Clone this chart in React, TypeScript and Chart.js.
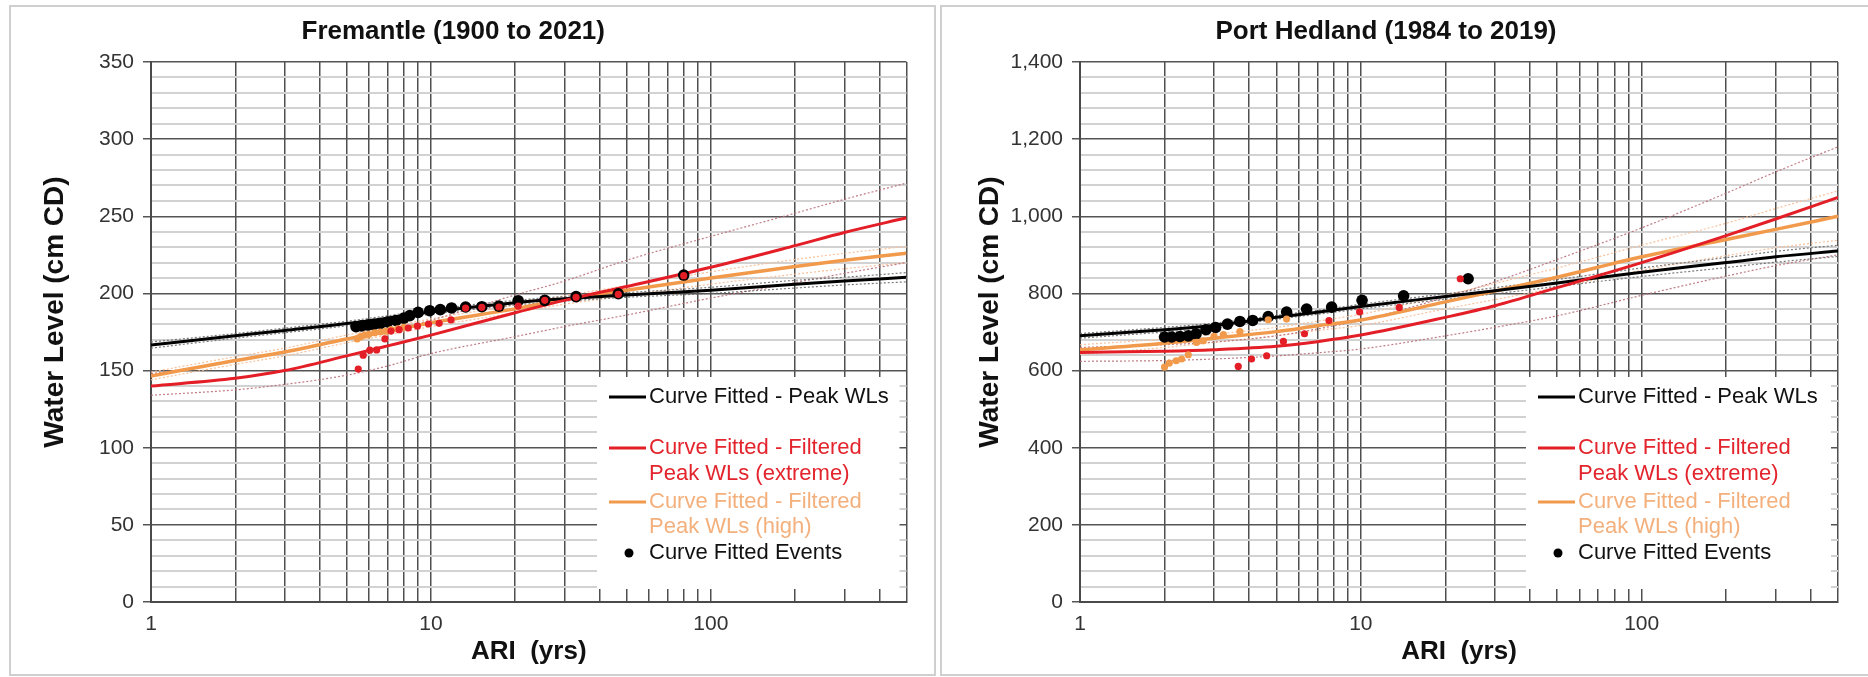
import React, { useEffect, useRef } from 'react';
import { Chart, registerables } from 'chart.js';

Chart.register(...registerables);

const FONT = '"Liberation Sans", Arial, Helvetica, sans-serif';

// ---------- shared axis data ----------
const X_TICKS = [1, 2, 3, 4, 5, 6, 7, 8, 9, 10, 20, 30, 40, 50, 60, 70, 80, 90, 100, 200, 300, 400, 500];
const X_LABELS = [1, 10, 100];
const CURVE_ARI = [1, 2, 3, 5, 7, 10, 20, 30, 50, 100, 200, 300, 500];
const X_TITLE = 'ARI  (yrs)';
const Y_TITLE = 'Water Level (cm CD)';

const LEGEND_LABELS = [
  ['Curve Fitted - Peak WLs'],
  ['Curve Fitted - Filtered', 'Peak WLs (extreme)'],
  ['Curve Fitted - Filtered', 'Peak WLs (high)'],
  ['Curve Fitted Events'],
];

// ---------- Fremantle ----------
const FRE_TITLE = 'Fremantle (1900 to 2021)';
const FRE_Y_MAJOR = [0, 50, 100, 150, 200, 250, 300, 350];
const FRE_PEAK = [166.5, 172.5, 176, 180.5, 184, 188, 194, 196.5, 199, 202, 206, 208, 210.5];
const FRE_PEAK_UP = [168.5, 174, 177.5, 182, 185.5, 189.5, 195.5, 198, 200.5, 204, 208.5, 210.5, 213.5];
const FRE_PEAK_LO = [164.5, 171, 174.5, 179, 182.5, 186.5, 192.5, 195, 197.5, 200, 203.5, 205.5, 207.5];
const FRE_EXT = [140, 145, 150, 159.5, 166, 173, 187.5, 195.5, 204.5, 217, 231, 239.5, 249];
const FRE_EXT_UP = [148, 156, 162, 170, 176, 182.6, 199, 208, 221.5, 237, 252, 261, 271.5];
const FRE_EXT_LO = [134, 137.5, 141, 147, 153, 161, 172, 178.5, 186, 197, 207, 213, 220];
const FRE_HIGH = [146.5, 156.5, 162, 170.5, 175.5, 181, 190, 196, 202, 210, 217.5, 221.5, 226];
const FRE_HIGH_UP = [149, 159, 164.5, 173, 178, 183.5, 192.5, 198.5, 205, 214, 222, 226, 230.5];
const FRE_HIGH_LO = [144, 154, 159.5, 168, 173, 178.5, 187.5, 193, 198.5, 206, 212.5, 216, 220];

const FRE_EVENT_ARI = [80, 46.7, 33, 25.5, 20.5, 17.5, 15.2, 13.3, 11.85, 10.8, 9.9, 9.0, 8.4, 8.0, 7.5, 7.0, 6.6, 6.25, 5.95, 5.65, 5.4];
const FRE_EVENT_WL = [211.9, 199.8, 197.9, 195.5, 195.3, 191.8, 191.4, 191.2, 190.6, 189.5, 188.8, 187.7, 185.6, 184, 182.5, 181.5, 180.5, 180, 179.5, 179, 178.5];
const FRE_EXT_PT_ARI = [80, 46.7, 33, 25.5, 20.5, 17.5, 15.2, 13.3, 11.8, 10.7, 9.8, 8.95, 8.3, 7.7, 7.2, 6.85, 6.4, 6.05, 5.73, 5.5];
const FRE_EXT_PT_WL = [211.5, 199.4, 197.5, 195.5, 191.8, 191.2, 191, 190.5, 182.8, 180.6, 180.2, 178.8, 177.6, 176.5, 175.6, 170.5, 163.4, 163.2, 160, 151];
const FRE_HIGH_PT_ARI = [8.0, 7.6, 7.2, 6.9, 6.6, 6.3, 6.0, 5.8, 5.6, 5.45];
const FRE_HIGH_PT_WL = [178, 177, 176.5, 175.5, 175, 174.5, 173.5, 173, 172, 170.5];

// ---------- Port Hedland ----------
const PH_TITLE = 'Port Hedland (1984 to 2019)';
const PH_Y_MAJOR = [0, 200, 400, 600, 800, 1000, 1200, 1400];
const PH_PEAK = [690, 706, 717, 738, 751, 766, 792, 807, 827, 855, 880, 895, 910];
const PH_PEAK_UP = [696, 712, 723, 743, 756, 772, 799, 815, 836, 866, 893, 909, 925];
const PH_PEAK_LO = [684, 700, 711, 733, 746, 760, 785, 799, 818, 844, 867, 881, 896];
const PH_EXT = [647, 650, 654, 663, 675, 692, 738, 768, 815, 880, 950, 993, 1049];
const PH_EXT_UP = [660, 667, 674, 690, 708, 730, 790, 830, 888, 970, 1060, 1115, 1180];
const PH_EXT_LO = [624, 626, 630, 638, 646, 656, 690, 712, 742, 795, 845, 872, 900];
const PH_HIGH = [654, 671, 684, 701, 716, 731, 778, 806, 842, 895, 940, 966, 1000];
const PH_HIGH_UP = [667, 682, 694, 712, 728, 746, 795, 826, 866, 925, 982, 1020, 1066];
const PH_HIGH_LO = [642, 660, 673, 690, 704, 717, 760, 784, 815, 860, 898, 918, 938];

const PH_EVENT_ARI = [24.1, 14.2, 10.1, 7.87, 6.41, 5.44, 4.68, 4.12, 3.71, 3.35, 3.04, 2.81, 2.59, 2.43, 2.27, 2.12, 2.0];
const PH_EVENT_WL = [838, 794, 782, 764.5, 759.4, 751.6, 740, 730, 727.3, 720.5, 711.8, 705.8, 695.4, 690, 688.5, 687, 687];
const PH_EXT_PT_ARI = [22.6, 13.7, 9.9, 7.7, 6.3, 5.3, 4.62, 4.08, 3.66];
const PH_EXT_PT_WL = [838, 763.6, 752, 729.5, 695.4, 675.5, 638.4, 630, 610.7];
const PH_HIGH_PT_ARI = [5.44, 4.68, 3.71, 3.24, 3.0, 2.75, 2.6, 2.43, 2.3, 2.2, 2.08, 2.0];
const PH_HIGH_PT_WL = [733.5, 731.7, 701, 693, 688.5, 677, 673, 641, 630, 625.5, 619.5, 609];

// ---------- styles ----------
const C = {
  black: '#000000',
  red: '#e41e26',
  orange: '#f29a4c',
  redText: '#e3242c',
  orangeText: '#f3b07c',
  blackBand: 'rgba(100,100,100,0.85)',
  redBand: 'rgba(185,110,120,0.9)',
  orangeBand: 'rgba(248,190,150,0.95)',
  gridMajor: '#555555',
  gridMinor: '#d2d2d2',
  gridV: '#4f4f4f',
  tick: '#333333',
};

const zip = (xs: number[], ys: number[]) => xs.map((x, i) => ({ x, y: ys[i] }));

function curve(data: number[], color: string, width: number, order: number) {
  return {
    data: zip(CURVE_ARI, data),
    showLine: true,
    borderColor: color,
    backgroundColor: color,
    borderWidth: width,
    pointRadius: 0,
    cubicInterpolationMode: 'monotone',
    order,
  };
}
function band(data: number[], color: string) {
  return {
    data: zip(CURVE_ARI, data),
    showLine: true,
    borderColor: color,
    borderWidth: 1.2,
    borderDash: [2, 2],
    pointRadius: 0,
    cubicInterpolationMode: 'monotone',
    order: 20,
  };
}
function pts(xs: number[], ys: number[], color: string, r: number, order: number) {
  return {
    data: zip(xs, ys),
    showLine: false,
    pointRadius: r,
    pointBackgroundColor: color,
    pointBorderColor: color,
    pointBorderWidth: 0,
    order,
  };
}

function legendPlugin() {
  return {
    id: 'boxLegend',
    afterDatasetsDraw(chart: any) {
      const { ctx, chartArea: a } = chart;
      const x0 = a.left + 446;
      const x1 = a.right - 7;
      const y0 = 377;
      const y1 = 589;
      ctx.save();
      ctx.fillStyle = '#ffffff';
      ctx.fillRect(x0, y0, x1 - x0, y1 - y0);
      ctx.font = `22px ${FONT}`;
      ctx.textBaseline = 'middle';
      ctx.textAlign = 'left';
      const rows = [[397], [448, 474], [502, 527], [553]];
      const colors = [C.black, C.red, C.orange, C.black];
      const textColors = ['#111111', C.redText, C.orangeText, '#111111'];
      LEGEND_LABELS.forEach((lines, i) => {
        const y = rows[i][0];
        if (i < 3) {
          ctx.strokeStyle = colors[i];
          ctx.lineWidth = 3;
          ctx.beginPath();
          ctx.moveTo(a.left + 458, y);
          ctx.lineTo(a.left + 495, y);
          ctx.stroke();
        } else {
          ctx.fillStyle = C.black;
          ctx.beginPath();
          ctx.arc(a.left + 478, y, 4.5, 0, Math.PI * 2);
          ctx.fill();
        }
        ctx.fillStyle = textColors[i];
        lines.forEach((t, j) => ctx.fillText(t, a.left + 498, rows[i][j]));
      });
      ctx.restore();
    },
  };
}

function yTitlePlugin(x: number, y: number) {
  return {
    id: 'yTitle',
    afterDraw(chart: any) {
      const { ctx } = chart;
      ctx.save();
      ctx.translate(x, y);
      ctx.rotate(-Math.PI / 2);
      ctx.font = `bold 28px ${FONT}`;
      ctx.fillStyle = '#111111';
      ctx.textAlign = 'center';
      ctx.textBaseline = 'middle';
      ctx.fillText(Y_TITLE, 0, 0);
      ctx.restore();
    },
  };
}

type Panel = {
  title: string;
  yMax: number;
  yStep: number;
  yMajor: number[];
  yWidth: number;
  padRight: number;
  yTitleX: number;
  peak: number[]; peakUp: number[]; peakLo: number[];
  ext: number[]; extUp: number[]; extLo: number[];
  high: number[]; highUp: number[]; highLo: number[];
  evX: number[]; evY: number[];
  exX: number[]; exY: number[];
  hiX: number[]; hiY: number[];
};

function makeConfig(p: Panel): any {
  const isMajor = (v: number) => p.yMajor.includes(v);
  return {
    type: 'scatter',
    data: {
      datasets: [
        pts(p.exX, p.exY, C.red, 3.6, 1),
        pts(p.hiX, p.hiY, C.orange, 3.6, 2),
        pts(p.evX, p.evY, C.black, 5.8, 3),
        curve(p.ext, C.red, 3, 5),
        curve(p.peak, C.black, 3, 6),
        curve(p.high, C.orange, 3.5, 7),
        band(p.peakUp, C.blackBand),
        band(p.peakLo, C.blackBand),
        band(p.extUp, C.redBand),
        band(p.extLo, C.redBand),
        band(p.highUp, C.orangeBand),
        band(p.highLo, C.orangeBand),
      ],
    },
    options: {
      responsive: false,
      animation: false,
      events: [],
      layout: { padding: { left: 0, right: p.padRight, top: 0, bottom: 0 } },
      plugins: {
        legend: { display: false },
        tooltip: { enabled: false },
        title: {
          display: true,
          text: p.title,
          color: '#111111',
          font: { family: FONT, size: 26, weight: 'bold', lineHeight: 1.2 },
          padding: { top: 16, bottom: 14.8 },
        },
      },
      scales: {
        x: {
          type: 'logarithmic',
          position: 'bottom',
          min: 1,
          max: 500,
          afterBuildTicks: (s: any) => {
            s.ticks = X_TICKS.map((value) => ({ value }));
          },
          afterFit: (s: any) => {
            s.height = 75;
          },
          ticks: {
            autoSkip: false,
            maxRotation: 0,
            padding: 10,
            color: C.tick,
            font: { family: FONT, size: 21 },
            callback: (v: any) => (X_LABELS.includes(Number(v)) ? String(v) : ''),
          },
          grid: { color: C.gridV, lineWidth: 1.5, drawTicks: false },
          border: { color: '#4a4a4a', width: 2 },
          title: {
            display: true,
            text: X_TITLE,
            color: '#111111',
            font: { family: FONT, size: 26, weight: 'bold', lineHeight: 1.2 },
            padding: { top: 0, bottom: 9.4 },
          },
        },
        y: {
          type: 'linear',
          min: 0,
          max: p.yMax,
          afterFit: (s: any) => {
            s.width = p.yWidth;
          },
          ticks: {
            stepSize: p.yStep,
            maxTicksLimit: 100,
            autoSkip: false,
            padding: 9,
            color: C.tick,
            font: { family: FONT, size: 21 },
            callback: (v: any) => (isMajor(Number(v)) ? Number(v).toLocaleString('en-US') : ''),
          },
          grid: {
            color: (ctx: any) => (isMajor(ctx.tick.value) ? C.gridMajor : C.gridMinor),
            lineWidth: (ctx: any) => (isMajor(ctx.tick.value) ? 1.5 : 2),
            tickLength: 8,
            tickColor: (ctx: any) => (isMajor(ctx.tick.value) ? '#555555' : 'rgba(0,0,0,0)'),
          },
          border: { color: '#4a4a4a', width: 2 },
          title: { display: false },
        },
      },
    },
    plugins: [legendPlugin(), yTitlePlugin(p.yTitleX, 312)],
  };
}

const FRE_PANEL: Panel = {
  title: FRE_TITLE, yMax: 350, yStep: 10, yMajor: FRE_Y_MAJOR, yWidth: 151, padRight: 27.5, yTitleX: 55,
  peak: FRE_PEAK, peakUp: FRE_PEAK_UP, peakLo: FRE_PEAK_LO,
  ext: FRE_EXT, extUp: FRE_EXT_UP, extLo: FRE_EXT_LO,
  high: FRE_HIGH, highUp: FRE_HIGH_UP, highLo: FRE_HIGH_LO,
  evX: FRE_EVENT_ARI, evY: FRE_EVENT_WL,
  exX: FRE_EXT_PT_ARI, exY: FRE_EXT_PT_WL,
  hiX: FRE_HIGH_PT_ARI, hiY: FRE_HIGH_PT_WL,
};

const PH_PANEL: Panel = {
  title: PH_TITLE, yMax: 1400, yStep: 40, yMajor: PH_Y_MAJOR, yWidth: 146, padRight: 30, yTitleX: 56,
  peak: PH_PEAK, peakUp: PH_PEAK_UP, peakLo: PH_PEAK_LO,
  ext: PH_EXT, extUp: PH_EXT_UP, extLo: PH_EXT_LO,
  high: PH_HIGH, highUp: PH_HIGH_UP, highLo: PH_HIGH_LO,
  evX: PH_EVENT_ARI, evY: PH_EVENT_WL,
  exX: PH_EXT_PT_ARI, exY: PH_EXT_PT_WL,
  hiX: PH_HIGH_PT_ARI, hiY: PH_HIGH_PT_WL,
};

function ChartCanvas({ panel, left }: { panel: Panel; left: number }) {
  const ref = useRef<HTMLCanvasElement | null>(null);
  useEffect(() => {
    if (!ref.current) return;
    const chart = new Chart(ref.current, makeConfig(panel));
    return () => chart.destroy();
  }, [panel]);
  return (
    <canvas
      ref={ref}
      width={934}
      height={677}
      style={{ position: 'absolute', left, top: 0, width: 934, height: 677 }}
    />
  );
}

export default function App() {
  return (
    <div style={{ position: 'absolute', left: 0, top: 0, width: 1868, height: 677, background: '#ffffff', overflow: 'hidden' }}>
      <div style={{ position: 'absolute', left: 9, top: 5, width: 927, height: 671, border: '2px solid #cfcfcf', boxSizing: 'border-box' }} />
      <div style={{ position: 'absolute', left: 940, top: 5, width: 940, height: 671, border: '2px solid #cfcfcf', boxSizing: 'border-box' }} />
      <ChartCanvas panel={FRE_PANEL} left={0} />
      <ChartCanvas panel={PH_PANEL} left={934} />
    </div>
  );
}
